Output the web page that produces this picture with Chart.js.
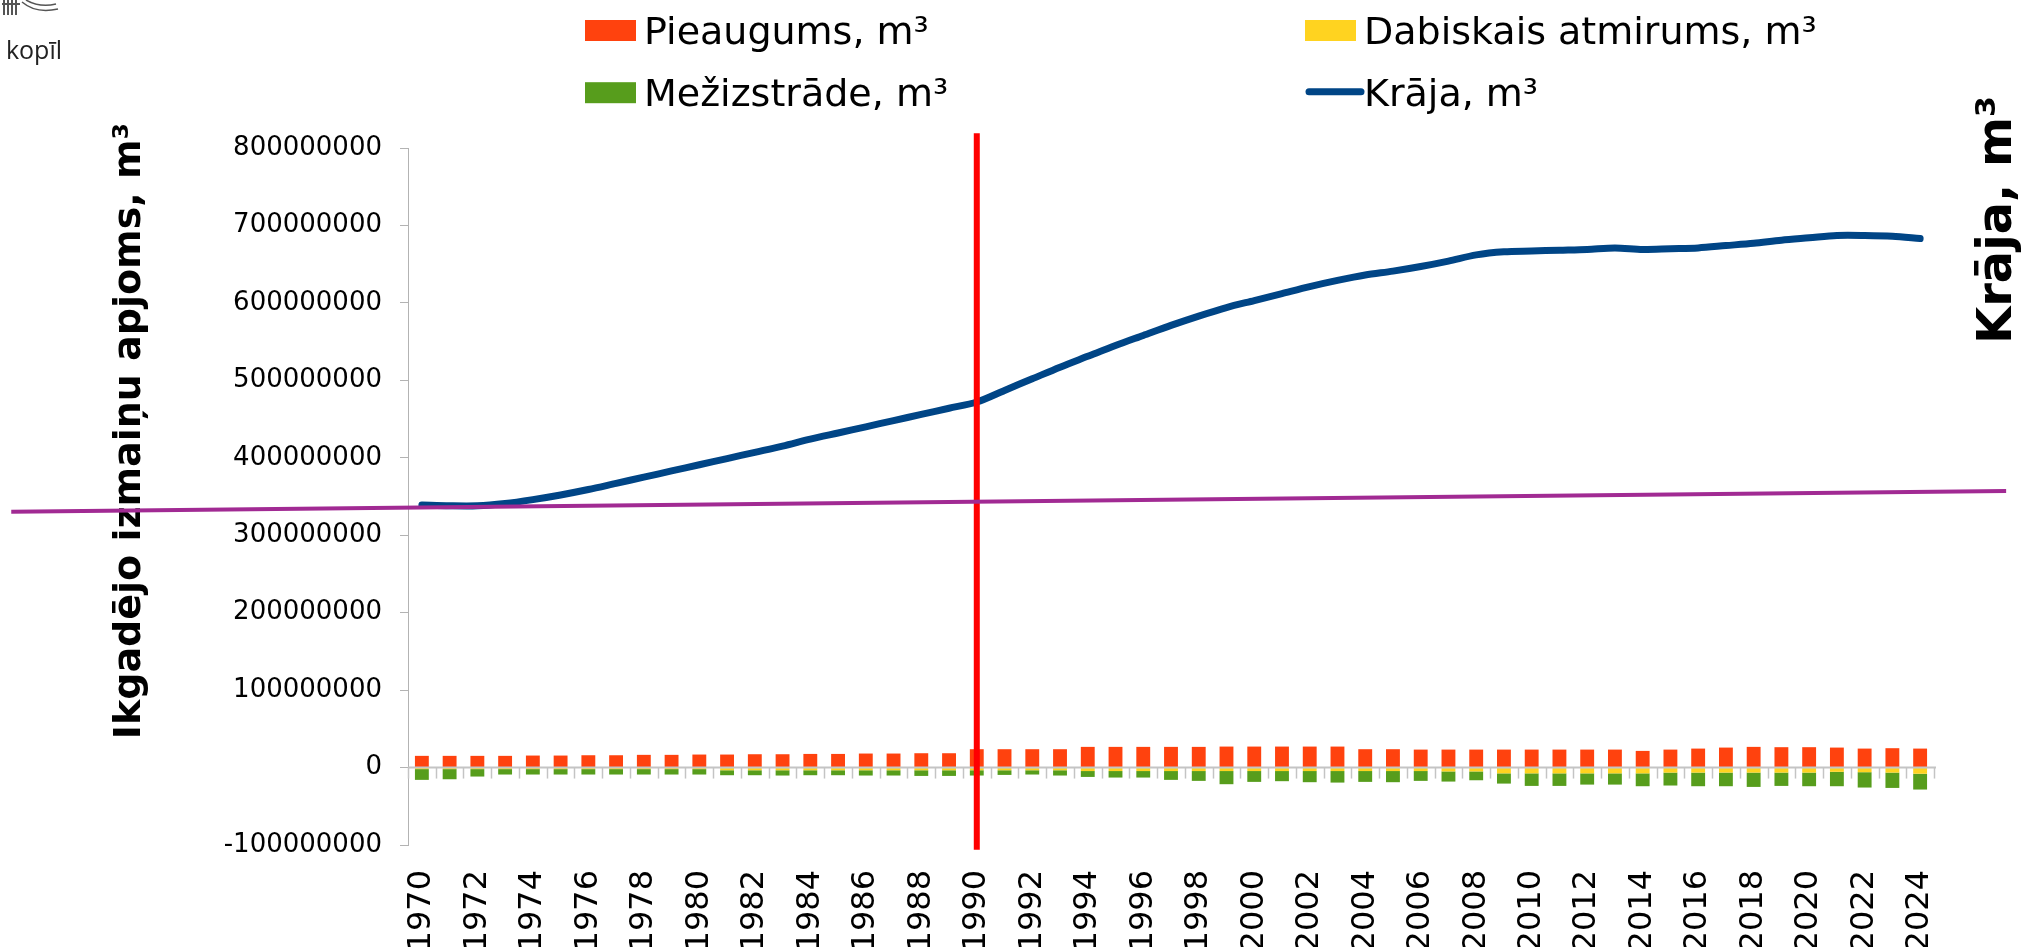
<!DOCTYPE html>
<html>
<head>
<meta charset="utf-8">
<script src="https://cdn.jsdelivr.net/npm/chart.js@4.4.1/dist/chart.umd.min.js"></script>
<style>
  html, body { margin: 0; padding: 0; background: #ffffff; }
  #wrap { position: relative; width: 2026px; height: 947px; }
</style>
</head>
<body>
<div id="wrap"><canvas id="chart" width="2026" height="947"></canvas></div>
<script>
// Gadi
const years = ['1970','1971','1972','1973','1974','1975','1976','1977','1978','1979',
  '1980','1981','1982','1983','1984','1985','1986','1987','1988','1989',
  '1990','1991','1992','1993','1994','1995','1996','1997','1998','1999',
  '2000','2001','2002','2003','2004','2005','2006','2007','2008','2009',
  '2010','2011','2012','2013','2014','2015','2016','2017','2018','2019',
  '2020','2021','2022','2023','2024'];

// Pieaugums, m3
const pieaugums = [15100000,15100000,15100000,15100000,15500000,15500000,15900000,15900000,16400000,16400000,
  16800000,16800000,17200000,17200000,17600000,17600000,18100000,18100000,18500000,18500000,
  23700000,23700000,23700000,23700000,26700000,26700000,26700000,26700000,26700000,27100000,
  27100000,27100000,27100000,27100000,23700000,23700000,23200000,23200000,23200000,23200000,
  23200000,23200000,23200000,23200000,21500000,23200000,24500000,25800000,26700000,26300000,
  26300000,25800000,24500000,25000000,24500000];

// Dabiskais atmirums, m3
const atmirums = [-2000000,-2000000,-2000000,-2000000,-2000000,-2000000,-2000000,-2000000,-2000000,-2000000,
  -2000000,-3500000,-3500000,-3500000,-3500000,-3500000,-3500000,-3500000,-3500000,-3500000,
  -3500000,-3500000,-3500000,-3500000,-4500000,-4500000,-4500000,-4500000,-4500000,-4500000,
  -4500000,-4500000,-4500000,-4500000,-4500000,-4500000,-4500000,-5000000,-5000000,-7500000,
  -7500000,-7500000,-7500000,-7500000,-7500000,-6500000,-6500000,-6500000,-6500000,-6500000,
  -6500000,-5500000,-6000000,-6500000,-8000000];

// Mežizstrāde, m3
const mezizstrade = [-13900000,-13100000,-9600000,-7000000,-7000000,-7000000,-7000000,-7000000,-7000000,-7000000,
  -7000000,-6400000,-6400000,-6800000,-6400000,-6400000,-6800000,-6800000,-7300000,-7300000,
  -6800000,-6000000,-5500000,-6800000,-7600000,-8400000,-8400000,-11400000,-12700000,-17000000,
  -14000000,-13100000,-14400000,-14900000,-14000000,-14400000,-12700000,-13100000,-11400000,-13200000,
  -16200000,-16200000,-14500000,-14500000,-16600000,-16700000,-17600000,-17600000,-18500000,-17200000,
  -17600000,-18600000,-19800000,-19800000,-20400000];

// Krāja, m3
const kraja = [339000000,338000000,338000000,341000000,346000000,352000000,359000000,367000000,375000000,383000000,
  391000000,399000000,407000000,415000000,424000000,432000000,440000000,448000000,456000000,464000000,
  472000000,487000000,502000000,517000000,531000000,545000000,558000000,571000000,583000000,594000000,
  603000000,612000000,621000000,629000000,636000000,641000000,647000000,654000000,662000000,666000000,
  667000000,668000000,669000000,671000000,669000000,670000000,671000000,674000000,677000000,681000000,
  684000000,687000000,687000000,686000000,683000000];

// sarkanā atzīme pie 1990. gada (no / līdz, m3)
const markYear = '1990';
const markRange = [-106000000, 819000000];

// violetā taisne: kategoriju indeksi un vērtības galos
const trendX = [-14.8, 57.1];
const trendY = [330300000, 356950000];

const yTicksMin = -100000000;
const yTicksMax = 800000000;
const yStep = 100000000;

const FONT = "'DejaVu Sans', Verdana, sans-serif";

const decor = {
  id: 'decor',
  afterDatasetsDraw(chart) {
    const { ctx, chartArea, scales } = chart;
    const x = scales.x, y = scales.y;
    const y0 = y.getPixelForValue(0);
    ctx.save();
    ctx.strokeStyle = '#c4c4c4';
    ctx.lineWidth = 2;
    ctx.beginPath();
    ctx.moveTo(chartArea.left, y0);
    ctx.lineTo(chartArea.right + 2, y0);
    ctx.stroke();
    ctx.lineWidth = 1.5;
    for (let i = 0; i <= years.length; i++) {
      const px = Math.round(x.getPixelForValue(i - 0.5)) + 0.5;
      ctx.beginPath();
      ctx.moveTo(px, y0);
      ctx.lineTo(px, y0 + 11);
      ctx.stroke();
    }
    ctx.restore();
  },
  afterDraw(chart) {
    const { ctx, scales } = chart;
    const x = scales.x, y = scales.y;
    ctx.save();

    // logo fragments
    ctx.strokeStyle = '#555';
    ctx.lineWidth = 2;
    [4, 8, 12, 16].forEach(px => {
      ctx.beginPath(); ctx.moveTo(px, 0); ctx.lineTo(px, 15); ctx.stroke();
    });
    ctx.beginPath(); ctx.moveTo(2, 4); ctx.lineTo(20, 4); ctx.stroke();
    ctx.lineWidth = 1.5;
    ctx.beginPath(); ctx.moveTo(22, 2); ctx.quadraticCurveTo(36, 14, 58, 9); ctx.stroke();
    ctx.beginPath(); ctx.moveTo(26, 0); ctx.quadraticCurveTo(40, 8, 56, 4); ctx.stroke();
    ctx.fillStyle = '#222';
    ctx.font = "25px 'Open Sans', sans-serif";
    ctx.textAlign = 'right';
    ctx.textBaseline = 'alphabetic';
    ctx.fillText('kopīl', 62, 59);

    // axis titles
    ctx.fillStyle = '#000';
    ctx.textAlign = 'center';
    ctx.save();
    ctx.translate(140, 431);
    ctx.rotate(-Math.PI / 2);
    ctx.font = 'bold 38px ' + FONT;
    ctx.fillText('Ikgadējo izmaiņu apjoms, m³', 0, 0);
    ctx.restore();
    ctx.save();
    ctx.translate(2011, 220);
    ctx.rotate(-Math.PI / 2);
    ctx.font = 'bold 48px ' + FONT;
    ctx.fillText('Krāja, m³', 0, 0);
    ctx.restore();

    // legend
    const cols = [585, 1305];
    const rows = [30.5, 92.7];
    ctx.font = '38px ' + FONT;
    ctx.textAlign = 'left';
    chart.data.datasets.forEach((ds, i) => {
      const cx = cols[i % 2];
      const cy = rows[Math.floor(i / 2)];
      if (ds.type === 'line') {
        ctx.strokeStyle = ds.borderColor;
        ctx.lineWidth = 7;
        ctx.lineCap = 'round';
        ctx.beginPath();
        ctx.moveTo(cx + 4, cy - 1);
        ctx.lineTo(cx + 56, cy - 1);
        ctx.stroke();
      } else {
        ctx.fillStyle = ds.backgroundColor;
        ctx.fillRect(cx, cy - 10.5, 51, 21);
      }
      ctx.fillStyle = '#000';
      ctx.fillText(ds.label, cx + 59, cy + 13);
    });

    // red marker at 1990
    const mx = x.getPixelForValue(years.indexOf(markYear));
    ctx.strokeStyle = '#ff0000';
    ctx.lineWidth = 6;
    ctx.lineCap = 'butt';
    ctx.beginPath();
    ctx.moveTo(mx, y.getPixelForValue(markRange[0]));
    ctx.lineTo(mx, y.getPixelForValue(markRange[1]));
    ctx.stroke();

    // purple trend line
    ctx.strokeStyle = '#a12a93';
    ctx.lineWidth = 4;
    ctx.beginPath();
    ctx.moveTo(x.getPixelForValue(trendX[0]), y.getPixelForValue(trendY[0]));
    ctx.lineTo(x.getPixelForValue(trendX[1]), y.getPixelForValue(trendY[1]));
    ctx.stroke();

    ctx.restore();
  }
};

const ctx = document.getElementById('chart').getContext('2d');
new Chart(ctx, {
  type: 'bar',
  data: {
    labels: years,
    datasets: [
      { label: 'Pieaugums, m³', data: pieaugums, backgroundColor: '#ff420e', stack: 'bars',
        barPercentage: 0.5, categoryPercentage: 1.0 },
      { label: 'Dabiskais atmirums, m³', data: atmirums, backgroundColor: '#ffd320', stack: 'bars',
        barPercentage: 0.5, categoryPercentage: 1.0 },
      { label: 'Mežizstrāde, m³', data: mezizstrade, backgroundColor: '#579d1c', stack: 'bars',
        barPercentage: 0.5, categoryPercentage: 1.0 },
      { label: 'Krāja, m³', type: 'line', data: kraja, borderColor: '#004586', backgroundColor: '#004586',
        borderWidth: 7, pointRadius: 0, tension: 0.3, borderCapStyle: 'round', borderJoinStyle: 'round',
        fill: false, stack: 'line' }
    ]
  },
  options: {
    responsive: false,
    animation: false,
    layout: { padding: { left: 0, right: 92, top: 148, bottom: 0 } },
    plugins: {
      legend: { display: false },
      tooltip: { enabled: false }
    },
    scales: {
      x: {
        stacked: true,
        grid: { display: false, drawTicks: false },
        border: { display: false },
        ticks: {
          autoSkip: false,
          minRotation: 90,
          maxRotation: 90,
          padding: 25,
          color: '#000',
          font: { family: FONT, size: 32 },
          callback: function(v, i) { return i % 2 === 0 ? this.getLabelForValue(v) : ''; }
        },
        afterFit: s => { s.height = 102; }
      },
      y: {
        stacked: true,
        min: yTicksMin,
        max: yTicksMax,
        ticks: {
          stepSize: yStep,
          padding: 18,
          color: '#000',
          font: { family: FONT, size: 26 },
          callback: v => String(v)
        },
        grid: { color: 'rgba(0,0,0,0)', tickColor: '#b3b3b3', tickLength: 8, drawTicks: true },
        border: { color: '#b3b3b3', width: 1 },
        afterFit: s => { s.width = 408; }
      }
    }
  },
  plugins: [decor]
});
</script>
</body>
</html>
